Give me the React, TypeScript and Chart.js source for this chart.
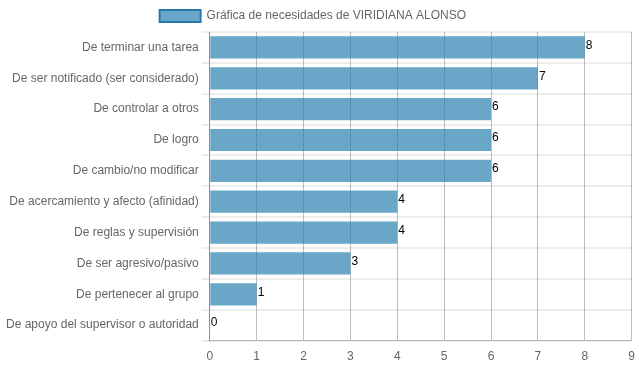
import React, { useEffect, useRef } from "react";
import { Chart, registerables } from "chart.js";

Chart.register(...registerables);

const categories = [
  "De terminar una tarea",
  "De ser notificado (ser considerado)",
  "De controlar a otros",
  "De logro",
  "De cambio/no modificar",
  "De acercamiento y afecto (afinidad)",
  "De reglas y supervisión",
  "De ser agresivo/pasivo",
  "De pertenecer al grupo",
  "De apoyo del supervisor o autoridad",
];
const values = [8, 7, 6, 6, 6, 4, 4, 3, 1, 0];
const seriesLabel = "Gráfica de necesidades de VIRIDIANA ALONSO";
const xMin = 0;
const xMax = 9;

const valueLabels = {
  id: "valueLabels",
  afterDatasetsDraw(chart: any) {
    const ctx = chart.ctx;
    const meta = chart.getDatasetMeta(0);
    ctx.save();
    ctx.font = "12px Arial, 'Liberation Sans', sans-serif";
    ctx.fillStyle = "#000";
    ctx.textAlign = "left";
    ctx.textBaseline = "middle";
    meta.data.forEach((bar: any, i: number) => {
      ctx.fillText(String(values[i]), bar.x + 1, bar.y - 2);
    });
    ctx.restore();
  },
};

export default function App() {
  const ref = useRef<HTMLCanvasElement>(null);
  useEffect(() => {
    if (!ref.current) return;
    Chart.defaults.font.family = "Arial, 'Liberation Sans', sans-serif";
    Chart.defaults.font.size = 12;
    Chart.defaults.color = "#666";
    const chart = new Chart(ref.current, {
      type: "bar",
      data: {
        labels: categories,
        datasets: [
          {
            label: seriesLabel,
            data: values,
            backgroundColor: "rgba(41, 128, 175, 0.7)",
            borderColor: "rgba(41, 128, 175, 0.9)",
            borderWidth: 0,
          },
        ],
      },
      options: {
        indexAxis: "y",
        animation: false,
        responsive: true,
        maintainAspectRatio: false,
        plugins: {
          legend: {
            labels: {
              boxWidth: 41,
              font: { size: 12 },
              color: "#666",
              generateLabels: (chart: any) =>
                chart.data.datasets.map((ds: any, i: number) => ({
                  text: ds.label + "    ",
                  fillStyle: ds.backgroundColor,
                  strokeStyle: "rgba(41, 120, 170, 1)",
                  lineWidth: 2,
                  hidden: false,
                  datasetIndex: i,
                  fontColor: "#666",
                })),
            },
          },
          tooltip: { enabled: false },
        },
        scales: {
          x: {
            min: xMin,
            max: xMax,
            ticks: { stepSize: 1, color: "#666", padding: 1 },
            grid: { color: "rgba(0,0,0,0.25)", tickColor: "rgba(0,0,0,0)" },
            border: { color: "rgba(0,0,0,0.25)" },
          },
          y: {
            ticks: { color: "#666" },
            grid: { color: "rgba(0,0,0,0.07)", lineWidth: 2 },
            border: { color: "rgba(0,0,0,0.25)" },
          },
        },
      },
      plugins: [valueLabels],
    });
    return () => chart.destroy();
  }, []);
  return (
    <div style={{ position: "absolute", left: 3, top: 0, width: 633, height: 365 }}>
      <canvas ref={ref} />
    </div>
  );
}
